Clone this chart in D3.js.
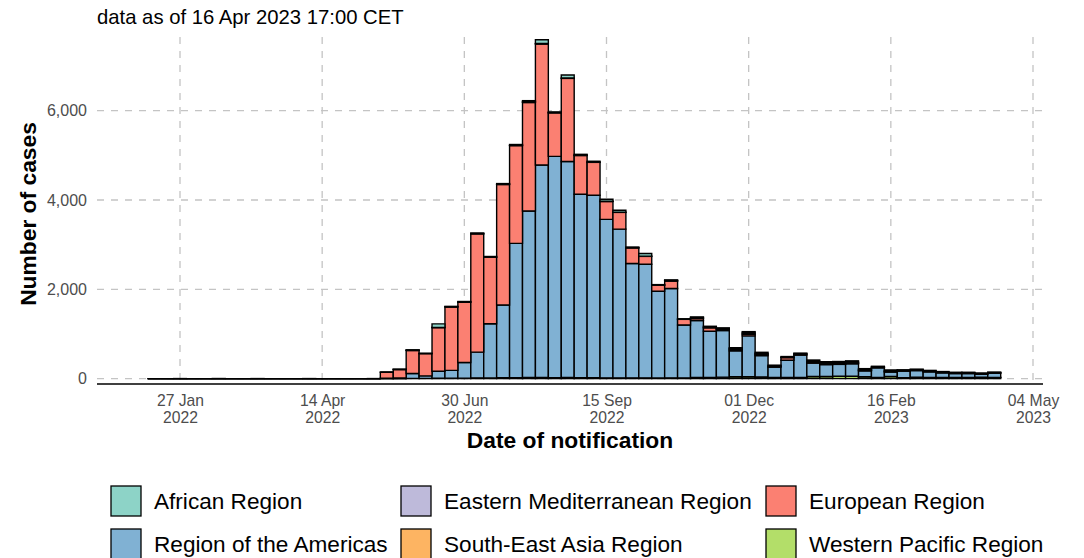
<!DOCTYPE html>
<html>
<head>
<meta charset="utf-8">
<script src="https://cdn.jsdelivr.net/npm/d3@7"></script>
<style>
  body { margin: 0; background: #fff; }
  svg { display: block; font-family: "Liberation Sans", Arial, sans-serif; }
</style>
</head>
<body>
<div id="chart"></div>
<script>
// weekly counts, first week centred on Thu 13 Jan 2022, last on Thu 13 Apr 2023
const firstWeek = "2022-01-13";
const nWeeks = 66;

const regions = ["African Region", "Eastern Mediterranean Region", "European Region",
                 "Region of the Americas", "South-East Asia Region", "Western Pacific Region"];
const colors = ["#8DD3C7", "#BEBADA", "#FB8072", "#80B1D3", "#FDB462", "#B3DE69"];

const african = [0,0,1,0,0,2,0,0,1,0,0,0,1,0,0,0,0,1,
  2,3,10,5,80,10,12,15,15,15,20,25,85,15,65,20,20,45,45,15,60,10,20,10,20,20,20,20,30,30,20,20,15,30,30,30,30,25,15,20,10,15,15,15,15,15,15,15];
const easternMed = [0,0,0,0,0,0,0,0,0,0,0,0,0,0,0,0,0,0,
  0,3,5,2,3,3,5,5,3,5,5,15,10,5,10,5,5,5,5,5,5,3,5,3,15,15,10,20,30,20,10,3,10,20,20,20,20,15,10,15,10,10,10,8,8,8,5,5];
const european = [0,0,0,0,0,0,0,0,0,0,0,0,0,0,0,0,0,0,
  135,190,515,500,980,1420,1350,2650,1490,2700,2190,2430,2710,975,1860,870,735,400,375,350,175,135,170,125,45,75,30,30,35,25,15,60,20,20,15,15,15,10,10,10,8,8,8,6,6,6,5,5];
const americas = [0,0,0,0,0,0,0,0,0,0,0,0,0,0,0,0,0,0,
  5,10,110,55,155,175,350,575,1215,1630,3010,3730,4760,4960,4840,4110,4090,3550,3330,2560,2545,1945,2000,1185,1275,1035,1045,580,915,477,230,385,500,300,267,267,282,132,215,103,148,148,125,103,87,87,70,96];
const seAsia = [0,0,0,0,0,0,0,0,0,0,0,0,0,0,0,0,0,0,
  0,0,0,0,0,0,0,2,2,3,3,5,5,3,3,3,3,2,2,2,2,2,2,2,2,2,2,2,2,2,1,1,1,1,1,1,1,1,1,1,1,1,1,1,1,1,1,1];
const westernPac = [0,0,0,0,0,0,0,0,0,0,0,0,0,0,0,0,0,0,
  2,3,5,5,8,10,10,15,10,15,15,20,20,15,20,15,15,15,15,15,15,10,15,15,25,25,30,40,40,35,25,25,25,45,45,50,50,40,25,45,20,30,25,25,25,25,30,25];

const yTicks = [0, 2000, 4000, 6000];
const xTickDates = ["2022-01-27", "2022-04-14", "2022-06-30", "2022-09-15", "2022-12-01", "2023-02-16", "2023-05-04"];
const subtitle = "data as of 16 Apr 2023 17:00 CET";

const width = 1084, height = 558;
const panel = { left: 97, right: 1043, top: 37, bottom: 384 };

const parse = d3.utcParse("%Y-%m-%d");
const weeks = d3.range(nWeeks).map(i => d3.utcDay.offset(parse(firstWeek), 7 * i));

const rows = weeks.map((w, i) => ({
  week: w,
  "African Region": african[i],
  "Eastern Mediterranean Region": easternMed[i],
  "European Region": european[i],
  "Region of the Americas": americas[i],
  "South-East Asia Region": seAsia[i],
  "Western Pacific Region": westernPac[i]
}));

const x = d3.scaleUtc()
  .domain([parse("2022-01-27"), parse("2023-05-04")])
  .range([180, 1033]);
const y = d3.scaleLinear().domain([0, 6000]).range([378.6, 110.7]);
const color = d3.scaleOrdinal().domain(regions).range(colors);

const svg = d3.select("#chart").append("svg")
  .attr("width", width).attr("height", height);

// gridlines
const grid = svg.append("g")
  .attr("stroke", "#c4c4c4").attr("stroke-width", 1.3)
  .attr("stroke-dasharray", "7,7");
grid.selectAll("line.h").data(yTicks).join("line")
  .attr("x1", panel.left).attr("x2", panel.right)
  .attr("y1", d => y(d)).attr("y2", d => y(d));
grid.selectAll("line.v").data(xTickDates).join("line")
  .attr("x1", d => x(parse(d))).attr("x2", d => x(parse(d)))
  .attr("y1", panel.top).attr("y2", panel.bottom);

// stacked bars, first level (African) on top
const stackKeys = regions.slice().reverse();
const series = d3.stack().keys(stackKeys)(rows);
const halfWeek = 3.5 * 24 * 3600 * 1000;

svg.append("g").selectAll("g").data(series).join("g")
  .attr("fill", d => color(d.key))
  .selectAll("path").data(d => d).join("path")
    .attr("d", d => {
      const x0 = x(new Date(+d.data.week - halfWeek));
      const x1 = x(new Date(+d.data.week + halfWeek));
      return `M${x0},${y(d[0])}H${x1}V${y(d[1])}H${x0}Z`;
    })
    .attr("stroke", "#000").attr("stroke-width", 1.4);

// x axis
const fmtDay = d3.utcFormat("%d %b"), fmtYear = d3.utcFormat("%Y");
const xAxis = svg.append("g")
  .attr("transform", `translate(0,${panel.bottom})`)
  .call(d3.axisBottom(x).tickValues(xTickDates.map(parse)).tickSize(0).tickFormat(""));
xAxis.select(".domain").remove();
xAxis.selectAll(".tick text").remove();
xAxis.selectAll(".tick").append("text")
  .attr("text-anchor", "middle").attr("fill", "#4d4d4d")
  .style("font-size", "15.7px")
  .call(t => t.append("tspan").attr("x", 0).attr("y", 22).text(d => fmtDay(d)))
  .call(t => t.append("tspan").attr("x", 0).attr("y", 39).text(d => fmtYear(d)));

svg.append("line")
  .attr("x1", panel.left).attr("x2", panel.right)
  .attr("y1", panel.bottom).attr("y2", panel.bottom)
  .attr("stroke", "#000").attr("stroke-width", 1.6);

// y axis
const yAxis = svg.append("g")
  .attr("transform", `translate(${panel.left},0)`)
  .call(d3.axisLeft(y).tickValues(yTicks).tickSize(0).tickPadding(10).tickFormat(d3.format(",")));
yAxis.select(".domain").remove();
yAxis.selectAll(".tick text")
  .attr("fill", "#4d4d4d").style("font-size", "16px").attr("font-family", null);

// titles
svg.append("text")
  .attr("x", 570).attr("y", 448).attr("text-anchor", "middle")
  .style("font-size", "22.8px").style("font-weight", "bold")
  .text("Date of notification");
svg.append("text")
  .attr("transform", "translate(36,214) rotate(-90)").attr("text-anchor", "middle")
  .style("font-size", "22.8px").style("font-weight", "bold")
  .text("Number of cases");
svg.append("text")
  .attr("x", 97).attr("y", 24)
  .style("font-size", "20.3px")
  .text(subtitle);

// legend, 3 columns x 2 rows
const colX = [111, 401, 766];
const rowY = [486, 529];
const legend = svg.append("g").selectAll("g").data(regions).join("g")
  .attr("transform", (d, i) => `translate(${colX[i % 3]},${rowY[Math.floor(i / 3)]})`);
legend.append("rect")
  .attr("width", 30).attr("height", 30)
  .attr("fill", d => color(d)).attr("stroke", "#000").attr("stroke-width", 1.3);
legend.append("text")
  .attr("x", 43).attr("y", 23)
  .style("font-size", "22.6px")
  .text(d => d);
</script>
</body>
</html>
